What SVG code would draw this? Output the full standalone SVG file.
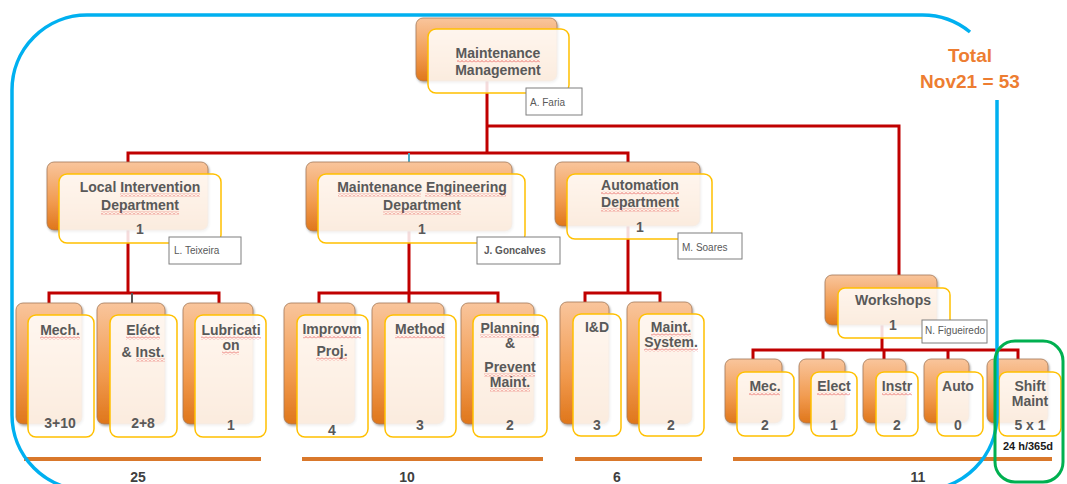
<svg xmlns="http://www.w3.org/2000/svg" width="1067" height="484" viewBox="0 0 1067 484">
<defs>
<linearGradient id="og" x1="0" y1="0" x2="0" y2="1">
<stop offset="0" stop-color="#F9C59C"/>
<stop offset="0.6" stop-color="#F19A4E"/>
<stop offset="1" stop-color="#DF761B"/>
</linearGradient>
<filter id="sh" x="-10%" y="-10%" width="130%" height="130%">
<feDropShadow dx="1" dy="1.5" stdDeviation="1.2" flood-color="#000" flood-opacity="0.35"/>
</filter>
<pattern id="wv" width="4" height="3" patternUnits="userSpaceOnUse">
<path d="M0,2.5 L2,0.5 L4,2.5" stroke="#E23A3A" stroke-width="0.7" fill="none"/>
</pattern>
<style>
.back{fill:url(#og);stroke:#A47A58;stroke-width:0.8;filter:url(#sh)}
.front{fill:#FFFFFF;fill-opacity:0.86;stroke:#FFC000;stroke-width:1.5}
.t{font-family:"Liberation Sans",Arial,sans-serif;font-weight:bold;font-size:14px;fill:#595959;text-anchor:middle}
.nb{fill:#FFFFFF;stroke:#7F7F7F;stroke-width:1}
.nm{font-family:"Liberation Sans",Arial,sans-serif;font-size:10px;fill:#595959}
.c{stroke:#C00000;stroke-width:3;fill:none}
.bar{fill:#D9782B}
.sum{font-family:"Liberation Sans",Arial,sans-serif;font-weight:bold;font-size:14px;fill:#404040;text-anchor:middle}
.tot{font-family:"Liberation Sans",Arial,sans-serif;font-weight:bold;font-size:19px;fill:#ED7D31;text-anchor:middle}
.wv{fill:url(#wv)}
</style>
</defs>
<rect width="1067" height="484" fill="#FFFFFF"/>

<g id="connectors">
<path class="c" d="M487,81 V153"/>
<path class="c" d="M487,126 H899 V275"/>
<path class="c" d="M128,162 V153 H628 V162"/>
<path d="M409,153 V162" stroke="#4BACC6" stroke-width="2" fill="none"/>
<path class="c" d="M128,230 V293"/>
<path class="c" d="M49,303 V293 H219 V303"/>
<path d="M132,293 V303" stroke="#595959" stroke-width="2" fill="none"/>
<path class="c" d="M409,231 V303"/>
<path class="c" d="M319,303 V293 H498 V303"/>
<path class="c" d="M628,226 V293"/>
<path class="c" d="M585,302 V293 H660 V302"/>
<path class="c" d="M882,325 V350"/>
<path class="c" d="M753,359 V350 H1018 V359 M823,350 V359 M884,350 V359 M948,350 V359"/>
</g>

<g id="maintenance-management">
<rect class="back" x="416" y="18" width="141" height="63" rx="7"/>
<rect class="front" x="428" y="29" width="141" height="64" rx="8"/>
<text class="t" x="498" y="58">Maintenance</text>
<text class="t" x="498" y="75">Management</text>
<rect class="wv" x="457" y="59.5" width="83" height="3"/>
</g>
<g id="name-faria">
<rect class="nb" x="526" y="88" width="56" height="27"/>
<text class="nm" x="530" y="106">A. Faria</text>
</g>

<g id="local-intervention">
<rect class="back" x="47" y="162" width="161" height="68" rx="7"/>
<rect class="front" x="59" y="174" width="162" height="69" rx="8"/>
<text class="t" x="140" y="192">Local Intervention</text>
<text class="t" x="140" y="210">Department</text>
<text class="t" x="140" y="234">1</text>
<rect class="wv" x="120" y="193.5" width="80" height="3"/>
<rect class="wv" x="101" y="211.5" width="78" height="3"/>
</g>
<g id="name-teixeira">
<rect class="nb" x="169" y="237" width="72" height="27"/>
<text class="nm" x="174" y="254">L. Teixeira</text>
</g>

<g id="maintenance-engineering">
<rect class="back" x="306" y="162" width="206" height="69" rx="7"/>
<rect class="front" x="318" y="174" width="207" height="69" rx="8"/>
<text class="t" x="422" y="192">Maintenance Engineering</text>
<text class="t" x="422" y="210">Department</text>
<text class="t" x="422" y="234">1</text>
<rect class="wv" x="338" y="193.5" width="83" height="3"/>
<rect class="wv" x="425" y="193.5" width="81" height="3"/>
<rect class="wv" x="383" y="211.5" width="78" height="3"/>
</g>
<g id="name-goncalves">
<rect class="nb" x="477" y="237" width="83" height="27"/>
<text class="nm" x="484" y="254" font-weight="bold">J. Goncalves</text>
</g>

<g id="automation">
<rect class="back" x="555" y="162" width="145" height="64" rx="7"/>
<rect class="front" x="567" y="174" width="145" height="65" rx="8"/>
<text class="t" x="640" y="190">Automation</text>
<text class="t" x="640" y="207">Department</text>
<text class="t" x="640" y="232">1</text>
<rect class="wv" x="601" y="191.5" width="78" height="3"/>
<rect class="wv" x="601" y="208.5" width="78" height="3"/>
</g>
<g id="name-soares">
<rect class="nb" x="678" y="233" width="64" height="26"/>
<text class="nm" x="682" y="251">M. Soares</text>
</g>

<g id="workshops">
<rect class="back" x="825" y="275" width="112" height="50" rx="7"/>
<rect class="front" x="838" y="288" width="112" height="50" rx="7"/>
<text class="t" x="893" y="305">Workshops</text>
<text class="t" x="893" y="330">1</text>
</g>
<g id="name-figueiredo">
<rect class="nb" x="922" y="320" width="65" height="23"/>
<text class="nm" x="925" y="334" font-size="7.8">N. Figueiredo</text>
</g>

<g id="mech">
<rect class="back" x="16" y="303" width="66" height="121" rx="7"/>
<rect class="front" x="28" y="315" width="66" height="122" rx="8"/>
<text class="t" x="60" y="335">Mech.</text>
<text class="t" x="60" y="428">3+10</text>
<rect class="wv" x="40" y="336.5" width="40" height="3"/>
</g>
<g id="elect-inst">
<rect class="back" x="97" y="303" width="68" height="121" rx="7"/>
<rect class="front" x="110" y="315" width="67" height="122" rx="8"/>
<text class="t" x="143" y="335">Eléct</text>
<text class="t" x="143" y="357">&amp; Inst.</text>
<text class="t" x="143" y="428">2+8</text>
<rect class="wv" x="126" y="336.5" width="34" height="3"/>
<rect class="wv" x="136" y="358.5" width="29" height="3"/>
</g>
<g id="lubrication">
<rect class="back" x="183" y="303" width="70" height="121" rx="7"/>
<rect class="front" x="195" y="315" width="71" height="122" rx="8"/>
<text class="t" x="231" y="335">Lubricati</text>
<text class="t" x="231" y="350">on</text>
<text class="t" x="231" y="430">1</text>
<rect class="wv" x="201" y="336.5" width="60" height="3"/>
<rect class="wv" x="222" y="351.5" width="17" height="3"/>
</g>

<g id="improvm-proj">
<rect class="back" x="284" y="303" width="71" height="121" rx="7"/>
<rect class="front" x="297" y="315" width="71" height="122" rx="8"/>
<text class="t" x="332" y="334">Improvm</text>
<text class="t" x="332" y="356">Proj.</text>
<text class="t" x="332" y="435">4</text>
<rect class="wv" x="303" y="335.5" width="58" height="3"/>
<rect class="wv" x="316" y="357.5" width="31" height="3"/>
</g>
<g id="method">
<rect class="back" x="372" y="303" width="72" height="121" rx="7"/>
<rect class="front" x="385" y="315" width="71" height="122" rx="8"/>
<text class="t" x="420" y="334">Method</text>
<text class="t" x="420" y="430">3</text>
<rect class="wv" x="395" y="335.5" width="50" height="3"/>
</g>
<g id="planning">
<rect class="back" x="461" y="303" width="73" height="121" rx="7"/>
<rect class="front" x="473" y="315" width="74" height="122" rx="8"/>
<text class="t" x="510" y="333">Planning</text>
<text class="t" x="510" y="348">&amp;</text>
<text class="t" x="510" y="372">Prevent</text>
<text class="t" x="510" y="387">Maint.</text>
<text class="t" x="510" y="430">2</text>
<rect class="wv" x="480" y="334.5" width="59" height="3"/>
<rect class="wv" x="484" y="373.5" width="51" height="3"/>
<rect class="wv" x="490" y="388.5" width="40" height="3"/>
</g>

<g id="i-and-d">
<rect class="back" x="560" y="302" width="49" height="122" rx="7"/>
<rect class="front" x="573" y="314" width="48" height="122" rx="8"/>
<text class="t" x="597" y="332">I&amp;D</text>
<text class="t" x="597" y="430">3</text>
</g>
<g id="maint-system">
<rect class="back" x="627" y="302" width="65" height="122" rx="7"/>
<rect class="front" x="639" y="314" width="65" height="122" rx="8"/>
<text class="t" x="671" y="332">Maint.</text>
<text class="t" x="671" y="347">System.</text>
<text class="t" x="671" y="430">2</text>
<rect class="wv" x="651" y="333.5" width="40" height="3"/>
<rect class="wv" x="644" y="348.5" width="54" height="3"/>
</g>

<g id="mec">
<rect class="back" x="725" y="359" width="57" height="64" rx="7"/>
<rect class="front" x="737" y="372" width="57" height="64" rx="8"/>
<text class="t" x="765" y="391">Mec.</text>
<text class="t" x="765" y="430">2</text>
<rect class="wv" x="749" y="392.5" width="31" height="3"/>
</g>
<g id="elect">
<rect class="back" x="799" y="359" width="46" height="64" rx="7"/>
<rect class="front" x="811" y="372" width="46" height="64" rx="8"/>
<text class="t" x="834" y="391">Elect</text>
<text class="t" x="834" y="430">1</text>
<rect class="wv" x="817" y="392.5" width="33" height="3"/>
</g>
<g id="instr">
<rect class="back" x="863" y="359" width="43" height="64" rx="7"/>
<rect class="front" x="876" y="372" width="42" height="64" rx="8"/>
<text class="t" x="897" y="391">Instr</text>
<text class="t" x="897" y="430">2</text>
<rect class="wv" x="882" y="392.5" width="30" height="3"/>
</g>
<g id="auto">
<rect class="back" x="924" y="359" width="45" height="64" rx="7"/>
<rect class="front" x="937" y="372" width="46" height="64" rx="8"/>
<text class="t" x="958" y="391">Auto</text>
<text class="t" x="958" y="430">0</text>
</g>
<g id="shift-maint">
<rect class="back" x="987" y="359" width="61" height="64" rx="7"/>
<rect class="front" x="999" y="372" width="62" height="64" rx="8"/>
<text class="t" x="1030" y="391">Shift</text>
<text class="t" x="1030" y="406">Maint</text>
<text class="t" x="1030" y="430">5 x 1</text>
<text x="1028" y="450" font-family="'Liberation Sans',Arial,sans-serif" font-weight="bold" font-size="11" fill="#1A1A1A" text-anchor="middle">24 h/365d</text>
</g>

<g id="totals">
<rect class="bar" x="24" y="457" width="237" height="4"/>
<rect class="bar" x="302" y="457" width="241" height="4"/>
<rect class="bar" x="575" y="457" width="127" height="4"/>
<rect class="bar" x="733" y="457" width="319" height="4"/>
<text class="sum" x="138" y="482">25</text>
<text class="sum" x="407" y="482">10</text>
<text class="sum" x="617" y="482">6</text>
<text class="sum" x="918" y="482">11</text>
</g>

<g id="frames">
<path d="M997,100 V415 A75,75 0 0 1 922,490 H87 A75,75 0 0 1 12,415 V90 A75,75 0 0 1 87,15 H922 A75,75 0 0 1 970,32" fill="none" stroke="#00B0F0" stroke-width="3.5"/>
<rect x="995" y="341" width="68" height="141" rx="20" fill="none" stroke="#00B050" stroke-width="3"/>
</g>

<g id="total-label">
<text class="tot" x="970" y="62">Total</text>
<text class="tot" x="970" y="88">Nov21 = 53</text>
</g>
</svg>
